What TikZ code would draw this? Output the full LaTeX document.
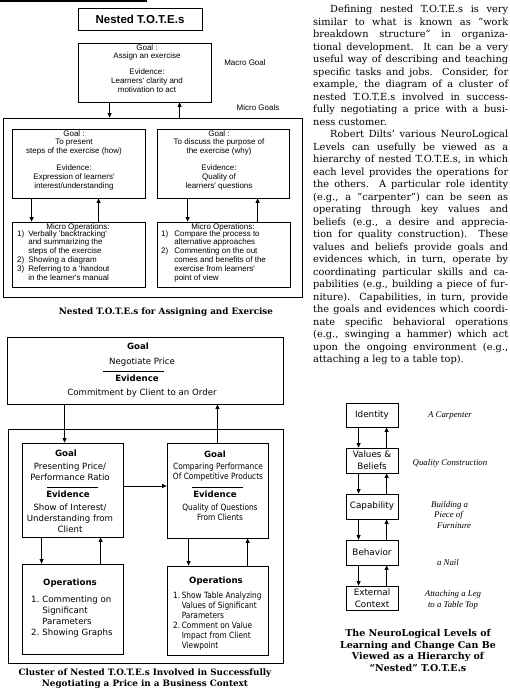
\documentclass[tikz,border=0pt]{standalone}
\usepackage{fontspec}
\setmainfont{DejaVu Serif}
\newfontfamily\helv{Liberation Sans}
\newfontfamily\geneva{DejaVu Sans}
\newfontfamily\genevanarrow[FakeStretch=0.86]{DejaVu Sans}
\newfontfamily\timesit{Liberation Serif}
\usetikzlibrary{arrows, arrows.meta}
\usetikzlibrary{calc}
\usetikzlibrary{positioning}

\newcommand{\totesmall}{\helv\fontsize{8}{8.8}\selectfont}
\newcommand{\genevatxt}{\geneva\fontsize{8.6}{11}\selectfont}
\newcommand{\genevanar}{\genevanarrow\fontsize{8.6}{10}\selectfont}
\newcommand{\levelbox}{\geneva\fontsize{8.8}{12}\selectfont}
\newcommand{\bodytxt}{\fontsize{9.8}{12.5}\selectfont}
\newcommand{\captxt}{\bfseries\fontsize{8.8}{11}\selectfont}
\newcommand{\levellbl}{\timesit\itshape\fontsize{8.8}{10.5}\selectfont}
\newcommand{\bodyline}[1]{\makebox[195pt][s]{#1}}
\newcommand{\lastline}[1]{\makebox[195pt][l]{#1}}
\newcommand{\dq}{\symbol{34}}

\begin{document}
\begin{tikzpicture}[x=1pt, y=-1pt,
  box/.style={draw, line width=0.8pt, inner sep=0pt},
  arr/.style={-{Triangle[length=4.5pt,width=4pt]}, line width=0.8pt},
  txt/.style={inner sep=0pt, align=center}]
\useasboundingbox (0,0) rectangle (509,695);

% nested T.O.T.E.s for assigning an exercise
\draw[line width=1.6pt] (0,1) -- (147,1);
\node[box, minimum width=124pt, minimum height=22pt, font=\helv\bfseries\fontsize{11.5}{13}\selectfont] (title) at (140,19) {Nested T.O.T.E.s};

\node[box, minimum width=133pt, minimum height=59pt] (macro) at (144.5,72.5) {};
\node[txt, font=\totesmall, anchor=north] (macrotxt) at (147,44.2) {Goal :\\Assign an exercise\\[7pt]Evidence:\\Learners' clarity and\\motivation to act};
\node[txt, font=\totesmall] (macrolbl) at (245,63) {Macro Goal};
\node[txt, font=\totesmall] (microlbl) at (258,108) {Micro Goals};

\node[box, minimum width=299pt, minimum height=179pt] (microbox) at (152.5,207.5) {};
\draw[arr] ([xshift=32pt]macro.south west) -- ([xshift=32pt]macro.south west |- microbox.north);
\draw[arr] ([xshift=102pt]macro.south west |- microbox.north) -- ([xshift=102pt]macro.south west);

\node[box, minimum width=133pt, minimum height=69pt] (howgoal) at (78.5,163.5) {};
\node[box, minimum width=132pt, minimum height=69pt] (whygoal) at (223,163.5) {};
\node[txt, font=\totesmall, anchor=north] (howtxt) at (74,130.1) {Goal :\\To present\\steps of the exercise (how)\\[8pt]Evidence:\\Expression of learners'\\interest/understanding};
\node[txt, font=\totesmall, anchor=north] (whytxt) at (219,130.1) {Goal :\\To discuss the purpose of\\the exercise (why)\\[8pt]Evidence:\\Quality of\\learners' questions};

\node[box, minimum width=133pt, minimum height=65pt] (howops) at (78.5,254.5) {};
\node[box, minimum width=133pt, minimum height=65pt] (whyops) at (223.5,254.5) {};
\node[txt, font=\totesmall] (howhead) at (78,227.2) {Micro Operations:};
\node[txt, font=\totesmall] (whyhead) at (223,227.2) {Micro Operations:};
\node[inner sep=0pt, anchor=north west, font=\totesmall] (howlist) at (17,229.8) {%
  \begin{tabular}{@{}l@{\hspace{4pt}}l@{}}
  1) & Verbally 'backtracking'\\
     & and summarizing the\\
     & steps of the exercise\\
  2) & Showing a diagram\\
  3) & Referring to a 'handout\\
     & in the learner's manual
  \end{tabular}};
\node[inner sep=0pt, anchor=north west, font=\totesmall] (whylist) at (161,229.8) {%
  \begin{tabular}{@{}l@{\hspace{6pt}}l@{}}
  1) & Compare the process to\\
     & alternative approaches\\
  2) & Commenting on the out\\
     & comes and benefits of the\\
     & exercise from learners'\\
     & point of view
  \end{tabular}};

\draw[arr] ([xshift=20pt]howgoal.south west) -- ([xshift=20pt]howgoal.south west |- howops.north);
\draw[arr] ([xshift=87pt]howops.north west) -- ([xshift=87pt]howops.north west |- howgoal.south);
\draw[arr] ([xshift=31pt]whygoal.south west) -- ([xshift=31pt]whygoal.south west |- whyops.north);
\draw[arr] ([xshift=101pt]whyops.north west) -- ([xshift=101pt]whyops.north west |- whygoal.south);

\node[txt, font=\captxt] (cap1) at (166,312) {Nested T.O.T.E.s for Assigning and Exercise};

% cluster for negotiating a price
\node[box, minimum width=276pt, minimum height=67pt] (pricegoal) at (145,370.5) {};
\node[txt, font=\genevatxt\bfseries, anchor=north] (pricegoalhead) at (138,342.9) {Goal};
\node[txt, font=\genevatxt, anchor=north] (pricegoaltxt) at (142,357.9) {Negotiate Price};
\draw[line width=0.8pt] (103,371) -- (164,371);
\node[txt, font=\genevatxt\bfseries, anchor=north] (priceevhead) at (137,374.8) {Evidence};
\node[txt, font=\genevatxt, anchor=north] (priceevtxt) at (142,388.9) {Commitment by Client to an Order};

\node[box, minimum width=275pt, minimum height=234pt] (pricebox) at (145.5,546) {};

\node[box, minimum width=101pt, minimum height=94pt] (ratiogoal) at (72.5,490) {};
\node[txt, font=\genevatxt\bfseries, anchor=north] (ratiogoalhead) at (66,449.8) {Goal};
\node[txt, font=\genevatxt, anchor=north] (ratiogoaltxt) at (70,462.9) {Presenting Price/\\Performance Ratio};
\draw[line width=0.8pt] (47,487) -- (98,487);
\node[txt, font=\genevatxt\bfseries, anchor=north] (ratioevhead) at (68,490.8) {Evidence};
\node[txt, font=\genevatxt, anchor=north] (ratioevtxt) at (70,503.9) {Show of Interest/\\Understanding from\\Client};

\node[box, minimum width=101pt, minimum height=95pt] (compgoal) at (217.5,490.5) {};
\node[txt, font=\genevatxt\bfseries, anchor=north] (compgoalhead) at (215,450.8) {Goal};
\node[txt, font=\genevanar, anchor=north] (compgoaltxt) at (218,462.9) {Comparing Performance\\Of Competitive Products};
\draw[line width=0.8pt] (192,487) -- (243,487);
\node[txt, font=\genevatxt\bfseries, anchor=north] (compevhead) at (215,490.8) {Evidence};
\node[txt, font=\genevanar, anchor=north] (compevtxt) at (220,503.9) {Quality of Questions\\From Clients};

\draw[arr] ([xshift=43pt]ratiogoal.north west |- pricegoal.south) -- ([xshift=43pt]ratiogoal.north west);
\draw[arr] (compgoal.north) -- (compgoal.north |- pricegoal.south);
\draw[arr] ([yshift=4pt]ratiogoal.east) -- ([yshift=4pt]ratiogoal.east -| compgoal.west);

\node[box, minimum width=101pt, minimum height=90pt] (ratioops) at (72.5,609) {};
\node[box, minimum width=101pt, minimum height=89pt] (compops) at (217.5,610.5) {};
\node[txt, font=\genevatxt\bfseries, anchor=north] (ratioopshead) at (70,578.9) {Operations};
\node[txt, font=\genevatxt\bfseries, anchor=north] (compopshead) at (216,576.9) {Operations};
\node[inner sep=0pt, anchor=north west, font=\genevatxt] (ratioopslist) at (31,594.4) {%
  \begin{tabular}{@{}l@{\hspace{3pt}}l@{}}
  1. & Commenting on\\
     & Significant\\
     & Parameters\\
  2. & Showing Graphs
  \end{tabular}};
\node[inner sep=0pt, anchor=north west, font=\genevanar] (compopslist) at (173,591.1) {%
  \begin{tabular}{@{}l@{\hspace{1.5pt}}l@{}}
  1. & Show Table Analyzing\\
     & Values of Significant\\
     & Parameters\\
  2. & Comment on Value\\
     & Impact from Client\\
     & Viewpoint
  \end{tabular}};

\draw[arr] ([xshift=20pt]ratiogoal.south west) -- ([xshift=20pt]ratiogoal.south west |- ratioops.north);
\draw[arr] ([xshift=79pt]ratioops.north west) -- ([xshift=79pt]ratioops.north west |- ratiogoal.south);
\draw[arr] ([xshift=22pt]compgoal.south west) -- ([xshift=22pt]compgoal.south west |- compops.north);
\draw[arr] ([xshift=81pt]compops.north west) -- ([xshift=81pt]compops.north west |- compgoal.south);

\node[txt, font=\captxt] (cap2) at (145,678.5) {Cluster of Nested T.O.T.E.s Involved in Successfully\\Negotiating a Price in a Business Context};

% running text
\node[inner sep=0pt, anchor=north west, align=left, font=\bodytxt] (body) at (313,5.1) {%
  \bodyline{\hspace*{17pt}Defining nested T.O.T.E.s is very}\\
  \bodyline{similar to what is known as \dq work}\\
  \bodyline{breakdown structure\dq\ in organiza-}\\
  \bodyline{tional development. It can be a very}\\
  \bodyline{useful way of describing and teaching}\\
  \bodyline{specific tasks and jobs.\ \ Consider, for}\\
  \bodyline{example, the diagram of a cluster of}\\
  \bodyline{nested T.O.T.E.s involved in success-}\\
  \bodyline{fully negotiating a price with a busi-}\\
  \lastline{ness customer.}\\
  \bodyline{\hspace*{17pt}Robert Dilts' various NeuroLogical}\\
  \bodyline{Levels can usefully be viewed as a}\\
  \bodyline{hierarchy of nested T.O.T.E.s, in which}\\
  \bodyline{each level provides the operations for}\\
  \bodyline{the others.\ \ A particular role identity}\\
  \bodyline{(e.g., a \dq carpenter\dq) can be seen as}\\
  \bodyline{operating through key values and}\\
  \bodyline{beliefs (e.g., a desire and apprecia-}\\
  \bodyline{tion for quality construction).\ \ These}\\
  \bodyline{values and beliefs provide goals and}\\
  \bodyline{evidences which, in turn, operate by}\\
  \bodyline{coordinating particular skills and ca-}\\
  \bodyline{pabilities (e.g., building a piece of fur-}\\
  \bodyline{niture). Capabilities, in turn, provide}\\
  \bodyline{the goals and evidences which coordi-}\\
  \bodyline{nate specific behavioral operations}\\
  \bodyline{(e.g., swinging a hammer) which act}\\
  \bodyline{upon the ongoing environment (e.g.,}\\
  \lastline{attaching a leg to a table top).}};

% neurological levels
\node[box, minimum width=52pt, minimum height=24pt, font=\levelbox] (identity) at (372,415) {Identity};
\node[box, minimum width=52pt, minimum height=25pt, font=\levelbox, align=center] (values) at (372,460.5) {Values \&\\Beliefs};
\node[box, minimum width=52pt, minimum height=25pt, font=\levelbox] (capability) at (372,506.5) {Capability};
\node[box, minimum width=52pt, minimum height=25pt, font=\levelbox] (behavior) at (372,552.5) {Behavior};
\node[box, minimum width=52pt, minimum height=24pt, font=\levelbox, align=center] (context) at (372,598) {External\\Context};

\foreach \levelA/\levelB in {identity/values, values/capability, capability/behavior, behavior/context} {
  \draw[arr] ([xshift=13pt]\levelA.south west) -- ([xshift=13pt]\levelA.south west |- \levelB.north);
  \draw[arr] ([xshift=41pt]\levelB.north west) -- ([xshift=41pt]\levelB.north west |- \levelA.south);
}

\node[txt, font=\levellbl] (carpenter) at (450,416) {A Carpenter};
\node[txt, font=\levellbl] (quality) at (450,463) {Quality Construction};
\node[inner sep=0pt, anchor=north west, align=left, font=\levellbl] (furniture) at (431,501) {Building a\\\hspace*{3pt}Piece of\\\hspace*{6pt}Furniture};
\node[txt, font=\levellbl] (nail) at (448,562) {a Nail};
\node[txt, font=\levellbl] (leg) at (453,600) {Attaching a Leg\\to a Table Top};

\node[txt, font=\bfseries\fontsize{9.5}{11.7}\selectfont] (cap3) at (418,650.5) {The NeuroLogical Levels of\\Learning and Change Can Be\\Viewed as a Hierarchy of\\``Nested'' T.O.T.E.s};
\end{tikzpicture}
\end{document}
